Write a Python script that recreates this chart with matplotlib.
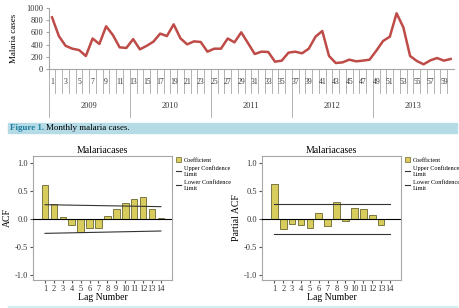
import matplotlib
matplotlib.use("Agg")
import matplotlib.pyplot as plt
from matplotlib.patches import Rectangle
from matplotlib.lines import Line2D
from matplotlib.patches import Patch
import numpy as np

plt.rcParams["font.family"] = ["Liberation Serif", "DejaVu Serif"]

# monthly malaria cases, Jan 2009 - Dec 2013
cases = [847, 540, 380, 333, 310, 213, 500, 410, 700, 557, 355, 345,
         490, 322, 380, 448, 580, 540, 732, 503, 404, 453, 443, 284,
         333, 333, 500, 437, 601, 425, 246, 284, 279, 120, 137, 268,
         284, 257, 333, 530, 623, 213, 98, 109, 153, 126, 137, 153,
         300, 459, 530, 913, 683, 213, 131, 77, 142, 180, 137, 164]
years = ["2009", "2010", "2011", "2012", "2013"]

lags = list(range(1, 15))
acf = [0.61, 0.27, 0.04, -0.11, -0.23, -0.17, -0.155, 0.06, 0.17, 0.28, 0.36, 0.39, 0.17, 0.02]
acf_upper = [0.255, 0.22]   # at lag 1 and lag 14
acf_lower = [-0.257, -0.215]
pacf = [0.62, -0.175, -0.085, -0.10, -0.157, 0.114, -0.12, 0.295, -0.04, 0.19, 0.17, 0.07, -0.115, -0.005]
pacf_upper = [0.26, 0.26]
pacf_lower = [-0.26, -0.26]

W, H = 460, 308
fig = plt.figure(figsize=(W / 100, H / 100), dpi=100)

def box(l, t, r, b):
    return [l / W, 1 - b / H, (r - l) / W, (b - t) / H]

grey = "#a6a6a6"
months = np.arange(1, len(cases) + 1)

# ---- top: monthly cases line ----
ax = fig.add_axes(box(48.7, 8, 454, 69))
ax.plot(months, cases, color="#be4b48", lw=1.8)
ax.set_xlim(0.5, 60.5)
ax.set_ylim(0, 1000)
ax.set_yticks(range(0, 1001, 200))
ax.tick_params(axis="y", labelsize=6, length=2, color=grey, pad=2, labelcolor="#333333")
ax.set_xticks([])
for s in ["top", "right"]:
    ax.spines[s].set_visible(False)
for s in ["left", "bottom"]:
    ax.spines[s].set_color(grey)
    ax.spines[s].set_linewidth(0.8)
ax.set_ylabel("Malaria cases", fontsize=6.5, labelpad=6)

# category axis below (month numbers + years)
cax = fig.add_axes(box(48.7, 69, 454, 118))
cax.set_xlim(0.5, 60.5)
cax.set_ylim(49, 0)
cax.axis("off")
for k in range(61):
    b = k + 0.5
    end = 48 if k % 12 == 0 else 24
    cax.plot([b, b], [0, end], color=grey, lw=0.6)
for m in months[::2]:
    cax.text(m, 13, str(m), ha="center", va="center", fontsize=5.5, color="#333333")
for i, y in enumerate(years):
    cax.text(12 * i + 6.5, 37, y, ha="center", va="center", fontsize=6, color="#333333")

# ---- caption bar ----
fig.patches.append(Rectangle((8 / W, 1 - 133 / H), 449 / W, 10 / H,
                             transform=fig.transFigure, color="#b5dce6", zorder=0))
fig.text(10 / W, 1 - 128 / H, "Figure 1.", fontsize=6.5, color="#1f7ea0",
         fontweight="bold", va="center")
fig.text(46 / W, 1 - 128 / H, "Monthly malaria cases.", fontsize=6.5,
         color="black", va="center")
fig.patches.append(Rectangle((8 / W, 0), 449 / W, 2 / H,
                             transform=fig.transFigure, color="#d3eef3", zorder=0))

# ---- bottom: ACF / PACF ----
def corr_panel(rect, vals, upper, lower, ylabel, xlim):
    a = fig.add_axes(rect)
    a.bar(lags, vals, width=0.75, color="#d8cd5c", edgecolor="#6b6630", lw=0.6, zorder=2)
    a.axhline(0, color="black", lw=0.8, zorder=3)
    a.plot([lags[0], lags[-1]], upper, color="#333333", lw=0.8, zorder=3)
    a.plot([lags[0], lags[-1]], lower, color="#333333", lw=0.8, zorder=3)
    a.set_xlim(*xlim)
    a.set_ylim(-1.09, 1.13)
    a.set_xticks(lags)
    a.set_xticklabels([str(l) for l in lags], fontsize=6)
    a.set_yticks([-1.0, -0.5, 0.0, 0.5, 1.0])
    a.set_yticklabels(["-1.0", "-0.5", "0.0", "0.5", "1.0"], fontsize=6)
    a.tick_params(length=2, color="#555555", pad=1.5, labelcolor="#333333")
    for s in a.spines.values():
        s.set_color(grey)
        s.set_linewidth(0.8)
    a.set_title("Malariacases", fontsize=7, pad=2)
    a.set_xlabel("Lag Number", fontsize=7, labelpad=0)
    a.set_ylabel(ylabel, fontsize=7, labelpad=2)
    handles = [Patch(facecolor="#d8cd5c", edgecolor="#6b6630", lw=0.5),
               Line2D([], [], color="#333333", lw=0.8),
               Line2D([], [], color="#333333", lw=0.8)]
    a.legend(handles, ["Coefficient", "Upper Confidence\nLimit", "Lower Confidence\nLimit"],
             loc="upper left", bbox_to_anchor=(1.0, 1.02), frameon=False, fontsize=4.5,
             handlelength=0.8, handleheight=0.8, handletextpad=0.5, labelspacing=0.5,
             borderaxespad=0.2)
    return a

corr_panel(box(33, 155.7, 172, 280), acf, acf_upper, acf_lower, "ACF", (-0.35, 15.25))
corr_panel(box(262, 155.7, 401, 280), pacf, pacf_upper, pacf_lower, "Partial ACF", (-0.38, 15.24))

fig.savefig("out.png", dpi=100)
